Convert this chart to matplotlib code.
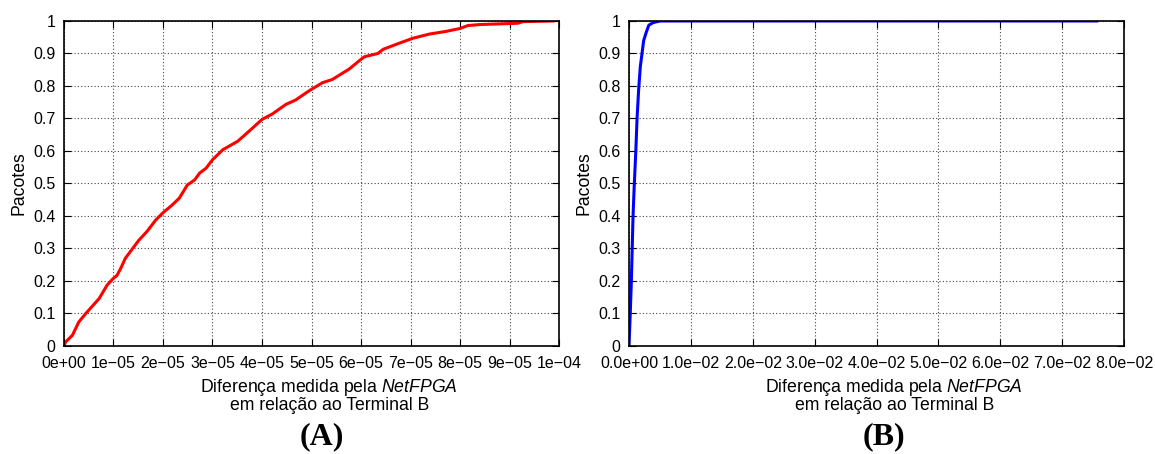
import matplotlib
matplotlib.use("Agg")
import matplotlib.pyplot as plt

plt.rcParams['font.family'] = ['Liberation Sans', 'DejaVu Sans']
plt.rcParams['mathtext.fontset'] = 'custom'
plt.rcParams['mathtext.it'] = 'Liberation Sans:italic'
plt.rcParams['mathtext.rm'] = 'Liberation Sans'

# CDF (A): difference in units of 1e-05 s, fraction of packets
diffA = [0, 0.03, 0.17, 0.30, 0.44, 0.71, 0.87, 0.99, 1.07, 1.15, 1.24, 1.51,
         1.68, 1.85, 2.0, 2.18, 2.33, 2.49, 2.64, 2.74, 2.87, 3.0, 3.21, 3.51,
         3.74, 4.0, 4.21, 4.48, 4.68, 4.95, 5.22, 5.42, 5.76, 6.0, 6.07, 6.34,
         6.45, 6.78, 7.05, 7.39, 7.72, 8.0, 8.16, 8.40, 9.17, 9.27, 9.88]
cdfA = [0, 0.012, 0.033, 0.074, 0.100, 0.146, 0.187, 0.207, 0.217, 0.240,
        0.270, 0.325, 0.353, 0.387, 0.410, 0.433, 0.455, 0.495, 0.511, 0.532,
        0.547, 0.573, 0.604, 0.630, 0.661, 0.697, 0.714, 0.743, 0.757, 0.785,
        0.810, 0.820, 0.852, 0.882, 0.890, 0.900, 0.913, 0.932, 0.947, 0.960,
        0.968, 0.977, 0.986, 0.989, 0.993, 0.998, 1.0]

# CDF (B): difference in seconds
diffB = [0, 0.0002, 0.00038, 0.00065, 0.00086, 0.0011, 0.0013, 0.00156,
         0.00183, 0.0021, 0.00237, 0.0028, 0.0032, 0.0039, 0.005, 0.0756]
cdfB = [0, 0.1, 0.2, 0.4, 0.5, 0.6, 0.7, 0.79, 0.86, 0.9, 0.94, 0.966,
        0.987, 0.995, 1.0, 1.0]

yticks = [0, 0.1, 0.2, 0.3, 0.4, 0.5, 0.6, 0.7, 0.8, 0.9, 1]
ylabels = ["0", "0.1", "0.2", "0.3", "0.4", "0.5", "0.6", "0.7", "0.8", "0.9", "1"]
xticksA = [i * 1e-5 for i in range(11)]
xlabelsA = ["0e+00"] + ["%de\u221205" % i for i in range(1, 10)] + ["1e\u221204"]
xticksB = [i * 0.01 for i in range(9)]
xlabelsB = ["0.0e+00"] + ["%d.0e\u221202" % i for i in range(1, 9)]

fig = plt.figure(figsize=(11.55, 4.54), dpi=100)
axA = fig.add_axes([0.0554, 0.2379, 0.4286, 0.7159])
axB = fig.add_axes([0.5446, 0.2379, 0.4286, 0.7159])

axA.plot([d * 1e-5 for d in diffA], cdfA, color="#ff0000", lw=2.2)
axB.plot(diffB, cdfB, color="#0000ff", lw=2.2)

def style(ax, xticks, xlabels, xmax):
    ax.set_xlim(0, xmax)
    ax.set_ylim(0, 1)
    ax.set_xticks(xticks)
    ax.set_xticklabels(xlabels)
    ax.set_yticks(yticks)
    ax.set_yticklabels(ylabels)
    ax.tick_params(direction="in", length=5, width=0.8, labelsize=11.5,
                   top=True, right=True)
    ax.tick_params(axis="x", pad=7)
    ax.tick_params(axis="y", pad=6)
    ax.grid(True, color="#444444", linestyle=(0, (1, 2)), linewidth=0.8)
    for s in ax.spines.values():
        s.set_linewidth(1.2)
    ax.set_ylabel("Pacotes", fontsize=12.7, labelpad=4)
    ax.set_xlabel("Diferença medida pela $\\mathit{NetFPGA}$\nem relação ao Terminal B",
                  fontsize=12.7, labelpad=3, linespacing=0.95)
    ax.xaxis.set_label_coords(0.536, -0.095, transform=ax.transAxes)
    ax.xaxis.label.set_va("top")

style(axA, xticksA, xlabelsA, 1e-4)
style(axB, xticksB, xlabelsB, 0.08)

fig.text(322 / 1155, 1 - 437 / 454, "(A)", ha="center", va="center",
         fontsize=23, fontweight="bold", family="Liberation Serif")
fig.text(884 / 1155, 1 - 437 / 454, "(B)", ha="center", va="center",
         fontsize=23, fontweight="bold", family="Liberation Serif")

fig.savefig("out.png", dpi=100)
